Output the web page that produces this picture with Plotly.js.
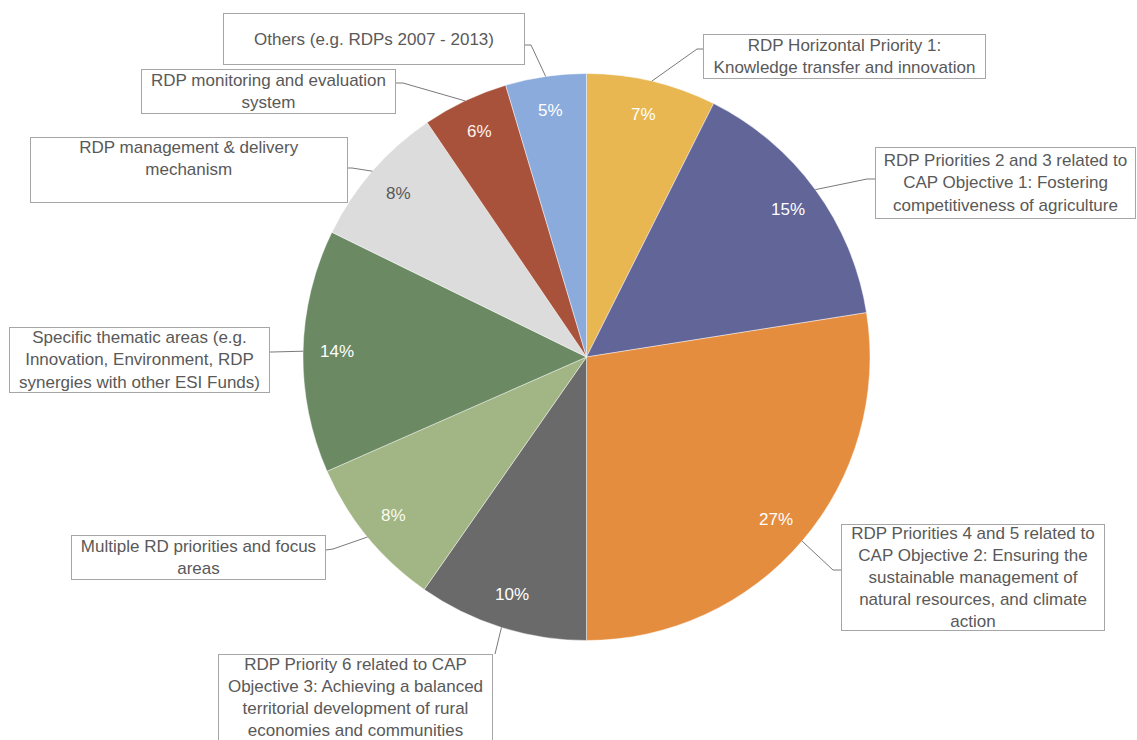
<!DOCTYPE html>
<html>
<head>
<meta charset="utf-8">
<script src="https://cdn.plot.ly/plotly-3.0.1.min.js"></script>
<style>html,body{margin:0;padding:0;background:#fff;}#chart{width:1137px;height:740px;}</style>
</head>
<body>
<div id="chart"></div>
<script>
// ---- data ----
const categories = [
  "RDP Horizontal Priority 1:\nKnowledge transfer and innovation",
  "RDP Priorities 2 and 3 related to\nCAP Objective 1: Fostering\ncompetitiveness of agriculture",
  "RDP Priorities 4 and 5 related to\nCAP Objective 2: Ensuring the\nsustainable management of\nnatural resources, and climate\naction",
  "RDP Priority 6 related to CAP\nObjective 3: Achieving a balanced\nterritorial development of rural\neconomies and communities",
  "Multiple RD priorities and focus\nareas",
  "Specific thematic areas (e.g.\nInnovation, Environment, RDP\nsynergies with other ESI Funds)",
  "RDP management & delivery\nmechanism",
  "RDP monitoring and evaluation\nsystem",
  "Others (e.g. RDPs 2007 - 2013)"
];
// slice shares as drawn
const values = [7.4, 15.1, 27.5, 9.7, 8.7, 13.85, 8.25, 4.9, 4.6];
// data labels as printed on the slices
const pctLabels = ["7%", "15%", "27%", "10%", "8%", "14%", "8%", "6%", "5%"];
const colors = ["#E8B751", "#616598", "#E58D3F", "#6A6A6A", "#A2B584", "#6B8A63", "#DCDCDC", "#A9523B", "#8AABDC"];
const pctColors = ["#ffffff", "#ffffff", "#ffffff", "#ffffff", "#fbfbef", "#ffffff", "#595959", "#fdf3ee", "#ffffff"];

// ---- layout constants (pixels) ----
const W = 1137, H = 740;
const CX = 586.5, CY = 357, R = 283.5;
const LABEL_R = 0.88;
const FONT = "Liberation Sans, Arial, sans-serif";

// callout boxes: left, top, width, height, valign, attach point, elbow point
const boxes = [
  {l: 703, t: 34,  w: 283, h: 45,  v: "middle", a: [703, 49],  e: [697, 49]},
  {l: 875, t: 147, w: 261, h: 72,  v: "middle", a: [875, 179], e: [867, 179]},
  {l: 841, t: 524, w: 264, h: 107, v: "middle", a: [841, 570], e: [833, 570]},
  {l: 218, t: 654, w: 275, h: 100, v: "top",    a: [495, 654], e: [495, 654]},
  {l: 71,  t: 535, w: 255, h: 45,  v: "middle", a: [326, 550], e: [333, 549]},
  {l: 9,   t: 327, w: 261, h: 66,  v: "middle", a: [270, 352], e: [272, 352]},
  {l: 30,  t: 137, w: 318, h: 66,  v: "top",    a: [348, 168], e: [352, 168]},
  {l: 141, t: 69,  w: 255, h: 45,  v: "middle", a: [396, 83],  e: [403, 83]},
  {l: 223, t: 13,  w: 302, h: 52,  v: "middle", a: [525, 45],  e: [531, 45]}
];

const px = x => x / W;
const py = y => 1 - y / H;

const total = values.reduce((s, v) => s + v, 0);
let cum = 0;
const midAngles = values.map(v => { const m = (cum + v / 2) / total * 360; cum += v; return m; });
const onCircle = (deg, rr) => {
  const a = deg * Math.PI / 180;
  return [CX + rr * Math.sin(a), CY - rr * Math.cos(a)];
};

const annotations = [];
const shapes = [];

// percent labels
midAngles.forEach((m, i) => {
  const p = onCircle(m, R * LABEL_R);
  annotations.push({
    xref: "paper", yref: "paper", x: px(p[0]), y: py(p[1]),
    xanchor: "center", yanchor: "middle", showarrow: false,
    text: pctLabels[i],
    font: {family: FONT, size: 17, color: pctColors[i]}
  });
});

// callout boxes and leader lines
boxes.forEach((b, i) => {
  annotations.push({
    xref: "paper", yref: "paper", x: px(b.l), y: py(b.t),
    xanchor: "left", yanchor: "top", showarrow: false,
    width: b.w - 2, height: b.h - 2, align: "center", valign: b.v,
    bgcolor: "#ffffff", bordercolor: "#a6a6a6", borderwidth: 1, borderpad: 0,
    text: categories[i].split("\n").join("<br>"),
    font: {family: FONT, size: 17, color: "#595959"}
  });
  const end = onCircle(midAngles[i], R);
  shapes.push({
    type: "path", xref: "paper", yref: "paper",
    path: "M " + px(b.a[0]) + "," + py(b.a[1]) +
          " L " + px(b.e[0]) + "," + py(b.e[1]) +
          " L " + px(end[0]) + "," + py(end[1]),
    line: {color: "#7a7a7a", width: 1}
  });
});

const trace = {
  type: "pie",
  labels: categories.map(c => c.replace(/\n/g, " ")),
  values: values,
  sort: false,
  direction: "clockwise",
  rotation: 0,
  textinfo: "none",
  hoverinfo: "skip",
  marker: {colors: colors, line: {color: "rgba(255,255,255,0.55)", width: 0.8}},
  domain: {x: [px(CX - R), px(CX + R)], y: [py(CY + R), py(CY - R)]}
};

const layout = {
  width: W, height: H,
  margin: {l: 0, r: 0, t: 0, b: 0},
  paper_bgcolor: "#ffffff",
  showlegend: false,
  font: {family: FONT},
  annotations: annotations,
  shapes: shapes
};

Plotly.newPlot("chart", [trace], layout, {staticPlot: true, displayModeBar: false});
</script>
</body>
</html>
